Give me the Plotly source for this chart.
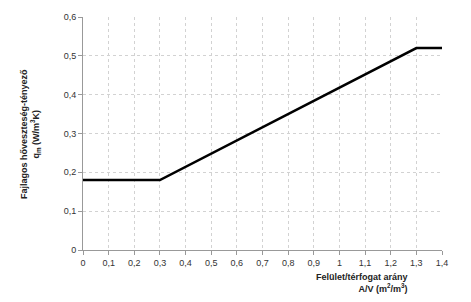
import plotly.graph_objects as go

x_vals = [0, 0.3, 1.3, 1.4]
y_vals = [0.18, 0.18, 0.52, 0.52]
x_ticks = [0, 0.1, 0.2, 0.3, 0.4, 0.5, 0.6, 0.7, 0.8, 0.9, 1.0, 1.1, 1.2, 1.3, 1.4]
y_ticks = [0, 0.1, 0.2, 0.3, 0.4, 0.5, 0.6]

fig = go.Figure()
fig.add_trace(go.Scatter(x=x_vals, y=y_vals, mode="lines",
                         line=dict(color="black", width=2.5), showlegend=False))

font = dict(family="Liberation Sans, Arial", size=9, color="#333")
fig.update_layout(
    width=471, height=302,
    margin=dict(l=83, r=29, t=14, b=52),
    paper_bgcolor="white", plot_bgcolor="white",
    separators=", ",
    font=font,
    xaxis=dict(range=[0, 1.4], tickvals=x_ticks, showgrid=True, gridcolor="#d2d2d2",
               griddash="dot", gridwidth=1, showline=True, linecolor="#999", linewidth=1,
               ticks="outside", ticklen=4, tickcolor="#999", zeroline=False,
               tickfont=font, fixedrange=True),
    yaxis=dict(range=[0, 0.6], tickvals=y_ticks, showgrid=True, gridcolor="#d2d2d2",
               griddash="dot", gridwidth=1, showline=True, linecolor="#999", linewidth=1,
               ticks="outside", ticklen=4, tickcolor="#999", zeroline=False,
               tickfont=font, fixedrange=True),
)
fig.add_annotation(xref="paper", yref="paper", x=1.0, y=0.0, xshift=-32, yshift=-20,
                   xanchor="right", yanchor="top", align="right", showarrow=False,
                   text="<b>Felület/térfogat arány<br>A/V (m<sup>2</sup>/m<sup>3</sup>)</b>",
                   font=dict(family="Liberation Sans, Arial", size=9, color="#222"))
fig.add_annotation(xref="paper", yref="paper", x=0, y=0.5, xshift=-66, yshift=-1,
                   textangle=-90, showarrow=False, align="center",
                   text="<b>Fajlagos hőveszteség-tényező<br>q<sub>m</sub> (W/m<sup>3</sup>K)</b>",
                   font=dict(family="Liberation Sans, Arial", size=9, color="#222"))
fig.write_html("out.html")
